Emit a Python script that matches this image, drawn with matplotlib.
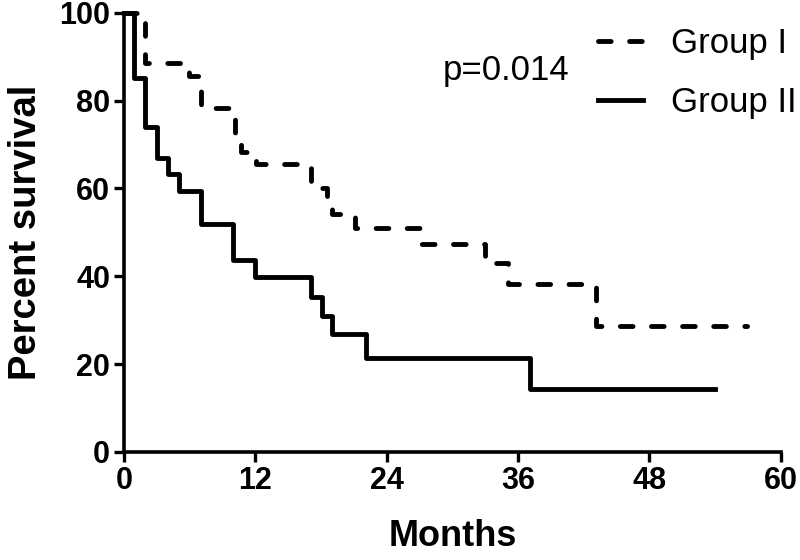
import matplotlib
matplotlib.use("Agg")
import matplotlib.pyplot as plt

# Kaplan-Meier curves (months, percent survival)
g1_months = [0, 1.9, 5.9, 7.0, 10.1, 10.7, 12.1, 17.1, 18.5, 19.0, 21.1, 27.0, 33.0, 35.1, 43.1, 56.9]
g1_surv = [100, 88.5, 85.7, 78.3, 70.6, 68.3, 65.6, 60.1, 57.4, 54.3, 51.0, 47.3, 43.0, 38.2, 28.7, 28.7]

g2_months = [0, 0.9, 1.9, 3.0, 4.0, 5.0, 7.0, 10.0, 12.0, 17.1, 18.1, 19.0, 22.1, 37.1, 54.0]
g2_surv = [100, 85.2, 74.1, 67.0, 63.3, 59.5, 51.8, 43.8, 39.9, 35.3, 31.0, 26.9, 21.4, 14.3, 14.3]

group_labels = ["Group I", "Group II"]
x_ticks = [0, 12, 24, 36, 48, 60]
y_ticks = [0, 20, 40, 60, 80, 100]
p_text = "p=0.014"

plt.rcParams["font.family"] = ["Liberation Sans", "DejaVu Sans"]

fig = plt.figure(figsize=(8, 5.6), dpi=100)
ax = fig.add_axes([0.155, 0.193, 0.821, 0.784])

lw = 3.5
ax.step(g1_months, g1_surv, where="post", color="black", lw=lw,
        linestyle=(0, (2.6, 3.8)), dash_capstyle="round", clip_on=False,
        label=group_labels[0])
ax.step(g2_months, g2_surv, where="post", color="black", lw=lw,
        clip_on=False, label=group_labels[1])

ax.set_xlim(0, 60)
ax.set_ylim(0, 100)
ax.set_xticks(x_ticks)
ax.set_yticks(y_ticks)
for s in ["top", "right"]:
    ax.spines[s].set_visible(False)
for s in ["left", "bottom"]:
    ax.spines[s].set_linewidth(2.6)
ax.tick_params(width=2.4, length=7, labelsize=22, pad=3)
for t in ax.get_xticklabels() + ax.get_yticklabels():
    t.set_fontweight("bold")

ax.set_xlabel("Months", fontsize=26, fontweight="bold", labelpad=17)
ax.set_ylabel("Percent survival", fontsize=27.5, fontweight="bold", labelpad=11)

ax.text(29.1, 84.7, p_text, fontsize=25, ha="left", va="baseline")

ax.legend(loc="upper left", bbox_to_anchor=(0.70, 1.0), frameon=False,
          fontsize=25, handlelength=1.3, handletextpad=0.8, labelspacing=0.76,
          borderaxespad=0)

fig.savefig("out.png", dpi=100)
